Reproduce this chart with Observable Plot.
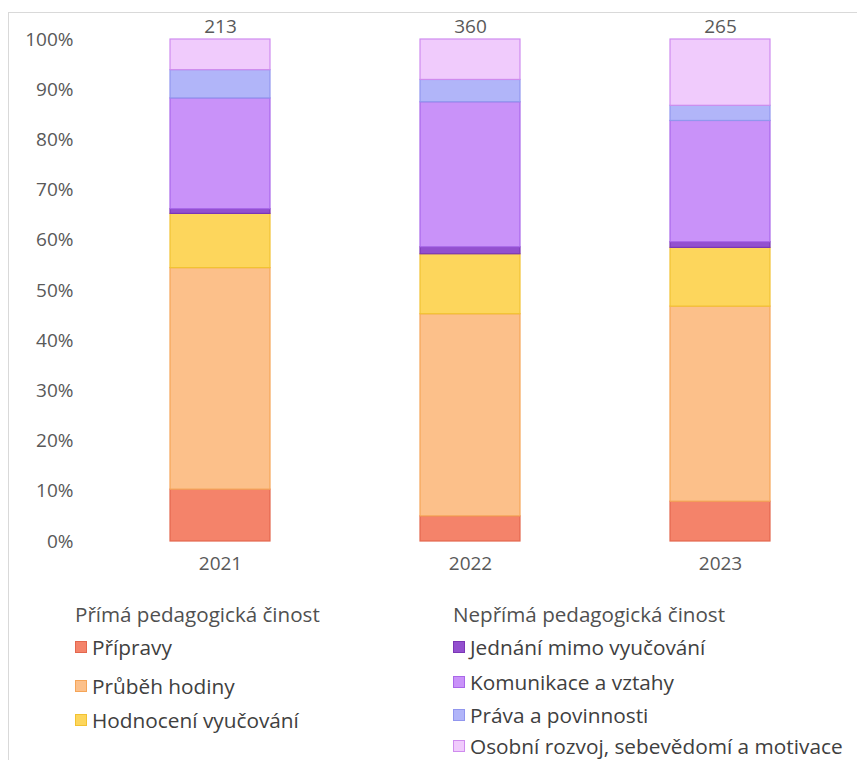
<!DOCTYPE html>
<html>
<head>
<meta charset="utf-8">
<script src="https://cdn.jsdelivr.net/npm/d3@7"></script>
<script src="https://cdn.jsdelivr.net/npm/@observablehq/plot@0.6"></script>
<style>
  html, body { margin: 0; padding: 0; background: #fff; }
  body { width: 857px; height: 760px; overflow: hidden; position: relative; font-family: "Open Sans", "Noto Sans", sans-serif; }
  #frame { position: absolute; left: 8px; top: 12px; width: 860px; height: 760px; border: 1px solid #d9d9d9; box-sizing: border-box; }
  #chart { position: absolute; left: 0; top: 0; }
  .legend { position: absolute; left: 0; top: 0; color: #404040; }
  .legend .head { position: absolute; white-space: nowrap; color: #505050; font-size: 20.6px; line-height: 24px; }
  .legend .item { position: absolute; white-space: nowrap; display: flex; align-items: center; font-size: 20.8px; line-height: 24px; }
  .legend .sw { width: 12px; height: 12px; box-sizing: border-box; border: 1px solid; margin-right: 5px; }
</style>
</head>
<body>
<div id="frame"></div>
<div id="chart"></div>
<div class="legend" id="legend"></div>
<script>
// Survey responses by year and topic (counts), shown as 100% stacked bars
const years = ["2021", "2022", "2023"];
const categories = [
  "Přípravy",
  "Průběh hodiny",
  "Hodnocení vyučování",
  "Jednání mimo vyučování",
  "Komunikace a vztahy",
  "Práva a povinnosti",
  "Osobní rozvoj, sebevědomí a motivace"
];
const pripravy = [22, 18, 21];
const prubehHodiny = [94, 145, 103];
const hodnoceni = [23, 43, 31];
const jednani = [2, 5, 3];
const komunikace = [47, 104, 64];
const prava = [12, 16, 8];
const osobniRozvoj = [13, 29, 35];

const fills = ["#f4836a", "#fcc08a", "#fdd65c", "#9350cf", "#c992f9", "#b1b5f9", "#f0cbfc"];
const strokes = ["#e3674e", "#f5a558", "#f2c232", "#7b36b6", "#a967e9", "#9196ee", "#cf8cee"];

const groups = [
  {title: "Přímá pedagogická činost", x: 75, items: [0, 1, 2], rows: [647, 686, 720]},
  {title: "Nepřímá pedagogická činost", x: 453, items: [3, 4, 5, 6], rows: [647, 682, 715, 746]}
];

const series = [pripravy, prubehHodiny, hodnoceni, jednani, komunikace, prava, osobniRozvoj];
const rows = [];
series.forEach((vals, ci) => {
  vals.forEach((v, yi) => rows.push({year: years[yi], category: categories[ci], ci, value: v}));
});
const totals = years.map((y, yi) => ({year: y, total: d3.sum(series, s => s[yi])}));

const chart = Plot.plot({
  width: 857,
  height: 590,
  marginTop: 39,
  marginBottom: 49,
  marginLeft: 94,
  marginRight: 11,
  style: {fontFamily: "'Open Sans', 'Noto Sans', sans-serif", fontSize: "19px", color: "#595959", background: "transparent"},
  x: {domain: years, paddingInner: 0.6, paddingOuter: 0.3, label: null, tickSize: 0, tickPadding: 15},
  y: {domain: [0, 1], ticks: d3.range(0, 1.0001, 0.1), tickFormat: d => Math.round(d * 100) + "%", label: null, tickSize: 0, tickPadding: 21},
  color: {type: "identity"},
  marks: [
    Plot.gridY(d3.range(0, 1.0001, 0.1), {stroke: "#d9d9d9", strokeOpacity: 1, strokeWidth: 1.2, x1: 95, x2: 845}),
    Plot.barY(rows, Plot.stackY({
      x: "year",
      y: "value",
      z: "category",
      offset: "normalize",
      order: categories,
      fill: d => fills[d.ci],
      stroke: d => strokes[d.ci],
      strokeWidth: 1.2
    })),
    Plot.text(totals, {x: "year", y: 1, text: d => String(d.total), dy: -13, fill: "#595959", fontSize: 19})
  ]
});
document.getElementById("chart").appendChild(chart);

// Legend in two grouped columns
const legend = document.getElementById("legend");
for (const g of groups) {
  const h = document.createElement("div");
  h.className = "head";
  h.textContent = g.title;
  h.style.left = g.x + "px";
  h.style.top = (614 - 12) + "px";
  legend.appendChild(h);
  g.items.forEach((ci, k) => {
    const it = document.createElement("div");
    it.className = "item";
    it.style.left = g.x + "px";
    it.style.top = (g.rows[k] - 12) + "px";
    const sw = document.createElement("span");
    sw.className = "sw";
    sw.style.background = fills[ci];
    sw.style.borderColor = strokes[ci];
    const t = document.createElement("span");
    t.textContent = categories[ci];
    it.appendChild(sw);
    it.appendChild(t);
    legend.appendChild(it);
  });
}
</script>
</body>
</html>
